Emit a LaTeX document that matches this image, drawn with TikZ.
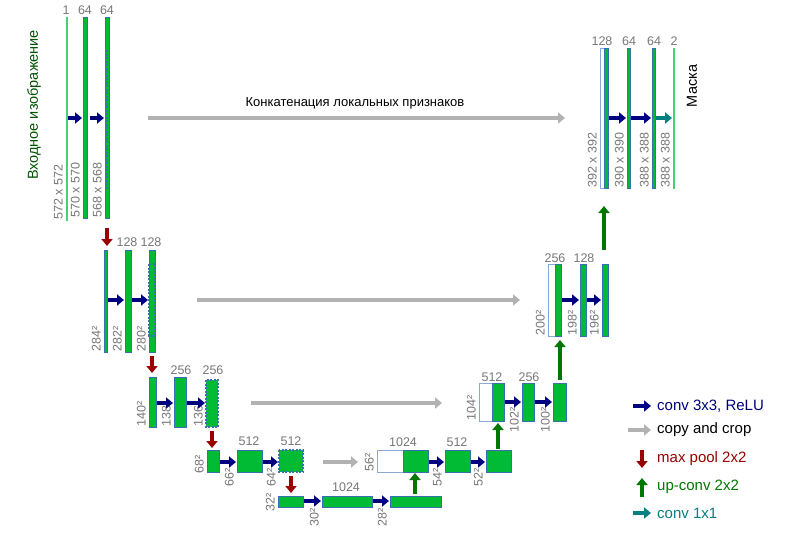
\documentclass[tikz,border=0pt]{standalone}
\usepackage{fontspec}
\setmainfont{Liberation Sans}
\usetikzlibrary{arrows.meta}
\definecolor{gr}{HTML}{00BB33}
\definecolor{bd}{HTML}{3A6FB0}
\definecolor{lab}{HTML}{777777}
\definecolor{cblue}{HTML}{000080}
\definecolor{cred}{HTML}{990000}
\definecolor{cgreen}{HTML}{007700}
\definecolor{cteal}{HTML}{008080}
\tikzset{
 blk/.style={draw=bd,fill=gr,line width=0.8pt},
 wblk/.style={draw=bd!60,fill=white,line width=0.8pt},
 dblk/.style={draw=bd,fill=gr,line width=1.3pt,dash pattern=on 2pt off 1.5pt},
 dov/.style={draw=bd,line width=1.6pt,dash pattern=on 2pt off 1.5pt},
 thin/.style={draw=gr!70!white,fill=gr!70!white,line width=0.6pt},
 num/.style={text=lab,font=\fontsize{12.5}{13}\selectfont,inner sep=0pt},
 dim/.style={text=lab,font=\fontsize{12.5}{13}\selectfont,inner sep=0pt,rotate=90,anchor=south west},
 ar/.style={line width=4pt,-{Triangle[length=7pt,width=11pt]}},
 conv/.style={ar,cblue},
 copy/.style={ar,gray!60},
 pool/.style={ar,cred},
 up/.style={ar,cgreen},
 one/.style={ar,cteal},
 txt/.style={font=\fontsize{13}{15}\selectfont,inner sep=0pt},
 leg/.style={font=\fontsize{15}{17}\selectfont,inner sep=0pt,anchor=west},
}
\newcommand{\blk}[6]{\path[#6] (#2,#3) rectangle (#4,#5);}
\begin{document}
\begin{tikzpicture}[x=1pt,y=-1pt]
\useasboundingbox (0,0) rectangle (800,533);
% level 1
\blk{a1}{66}{17}{67}{220}{thin}
\blk{a2}{83}{17}{87}{218}{blk}
\blk{a3}{105}{17}{109}{218}{blk}
\path[dov] (107,50) -- (107,190);
\node[num] (n1) at (66,10) {1};
\node[num] (n2) at (85,10) {64};
\node[num] (n3) at (107,10) {64};
\node[dim] (d1) at (63,220) {572 x 572};
\node[dim] (d2) at (80,218) {570 x 570};
\node[dim] (d3) at (102,218) {568 x 568};
\draw[conv] (68,118) -- (82,118);
\draw[conv] (90,118) -- (104,118);
\draw[copy] (148,118) -- (565,118);
\node[txt] (t1) at (355,103) {Конкатенация локальных признаков};
\node[txt,font=\fontsize{14.5}{16}\selectfont,rotate=90,text=cgreen!70!black] (t2) at (34,105) {Входное изображение};
\draw[pool] (107,228) -- (107,246);
% level 2
\blk{b1}{104}{250}{107}{352}{blk}
\blk{b2}{125}{250}{131}{352}{blk}
\blk{b3}{149}{250}{155}{352}{blk}
\path[dov] (149,264) rectangle (155,336);
\node[num] (n4) at (127,242) {128};
\node[num] (n5) at (151,242) {128};
\node[dim] (d4) at (101,352) {284²};
\node[dim] (d5) at (122,352) {282²};
\node[dim] (d6) at (146,352) {280²};
\draw[conv] (108,300) -- (124,300);
\draw[conv] (132,300) -- (148,300);
\draw[copy] (197,300) -- (520,300);
\draw[pool] (152,356) -- (152,373);
% level 3
\blk{c1}{149}{377}{156}{427}{blk}
\blk{c2}{174}{377}{186}{427}{blk}
\blk{c3}{206}{380}{218}{427}{dblk}
\node[num] (n6) at (181,370) {256};
\node[num] (n7) at (213,370) {256};
\node[dim] (d7) at (146,427) {140²};
\node[dim] (d8) at (171,427) {138²};
\node[dim] (d9) at (203,427) {136²};
\draw[conv] (157,403) -- (173,403);
\draw[conv] (187,403) -- (205,403);
\draw[copy] (251,403) -- (442,403);
\draw[pool] (212,431) -- (212,448);
% level 4
\blk{e1}{207}{450}{219}{472}{blk}
\blk{e2}{237}{450}{262}{472}{blk}
\blk{e3}{279}{450}{303}{472}{dblk}
\node[num] (n8) at (249,441) {512};
\node[num] (n9) at (291,441) {512};
\node[dim] (d10) at (204,474) {68²};
\node[dim] (d11) at (234,487) {66²};
\node[dim] (d12) at (276,487) {64²};
\draw[conv] (220,462) -- (236,462);
\draw[conv] (263,462) -- (278,462);
\draw[copy] (323,462) -- (358,462);
\draw[pool] (291,476) -- (291,493);
% level 5
\blk{f1}{278}{496}{303}{507}{blk}
\blk{f2}{322}{496}{372}{507}{blk}
\blk{f3}{390}{496}{441}{507}{blk}
\node[num] (n10) at (346,487) {1024};
\node[dim] (d13) at (275,512) {32²};
\node[dim] (d14) at (319,527) {30²};
\node[dim] (d15) at (387,527) {28²};
\draw[conv] (304,501) -- (321,501);
\draw[conv] (373,501) -- (389,501);
% up level 4
\blk{g0}{377}{450}{403}{472}{wblk}
\blk{g1}{403}{450}{428}{472}{blk}
\blk{g2}{445}{450}{470}{472}{blk}
\blk{g3}{486}{450}{511}{472}{blk}
\node[num] (n11) at (403,442) {1024};
\node[num] (n12) at (457,442) {512};
\node[dim] (d16) at (374,472) {56²};
\node[dim] (d17) at (442,487) {54²};
\node[dim] (d18) at (483,487) {52²};
\draw[up] (415,494) -- (415,473);
\draw[conv] (429,462) -- (444,462);
\draw[conv] (471,462) -- (485,462);
% up level 3
\blk{h0}{479}{383}{492}{421}{wblk}
\blk{h1}{492}{383}{504}{421}{blk}
\blk{h2}{522}{383}{534}{421}{blk}
\blk{h3}{553}{383}{566}{421}{blk}
\node[num] (n13) at (492,377) {512};
\node[num] (n14) at (529,377) {256};
\node[dim] (d19) at (476,421) {104²};
\node[dim] (d20) at (519,433) {102²};
\node[dim] (d21) at (550,433) {100²};
\draw[up] (498,449) -- (498,423);
\draw[conv] (505,402) -- (521,402);
\draw[conv] (535,402) -- (552,402);
% up level 2
\blk{i0}{548}{264}{555}{336}{wblk}
\blk{i1}{555}{264}{561}{336}{blk}
\blk{i2}{580}{264}{586}{336}{blk}
\blk{i3}{602}{264}{608}{336}{blk}
\node[num] (n15) at (555,258) {256};
\node[num] (n16) at (584,258) {128};
\node[dim] (d22) at (545,336) {200²};
\node[dim] (d23) at (577,336) {198²};
\node[dim] (d24) at (599,336) {196²};
\draw[up] (560,380) -- (560,340);
\draw[conv] (562,300) -- (579,300);
\draw[conv] (587,300) -- (601,300);
% up level 1
\blk{j0}{600}{48}{604}{188}{wblk}
\blk{j1}{604}{48}{608}{188}{blk}
\blk{j2}{627}{48}{630}{188}{blk}
\blk{j3}{652}{48}{655}{188}{blk}
\blk{j4}{673}{48}{674}{188}{thin}
\node[num] (n17) at (602,41) {128};
\node[num] (n18) at (629,41) {64};
\node[num] (n19) at (654,41) {64};
\node[num] (n20) at (674,41) {2};
\node[dim] (d25) at (597,188) {392 x 392};
\node[dim] (d26) at (624,188) {390 x 390};
\node[dim] (d27) at (649,188) {388 x 388};
\node[dim] (d28) at (670,188) {388 x 388};
\draw[up] (604,250) -- (604,206);
\draw[conv] (609,118) -- (626,118);
\draw[conv] (631,118) -- (651,118);
\draw[one] (656,118) -- (672,118);
\node[txt,font=\fontsize{14.5}{16}\selectfont,rotate=90] (t3) at (692,86) {Маска};
% legend
\draw[conv] (633,406) -- (651,406);
\draw[copy] (628,430) -- (651,430);
\draw[pool] (642,450) -- (642,468);
\draw[up] (642,497) -- (642,478);
\draw[one] (633,513) -- (651,513);
\node[leg,text=cblue] (l1) at (657,406) {conv 3x3, ReLU};
\node[leg] (l2) at (657,430) {copy and crop};
\node[leg,text=cred] (l3) at (657,459) {max pool 2x2};
\node[leg,text=cgreen] (l4) at (657,487) {up-conv 2x2};
\node[leg,text=cteal] (l5) at (657,513) {conv 1x1};
\end{tikzpicture}
\end{document}
